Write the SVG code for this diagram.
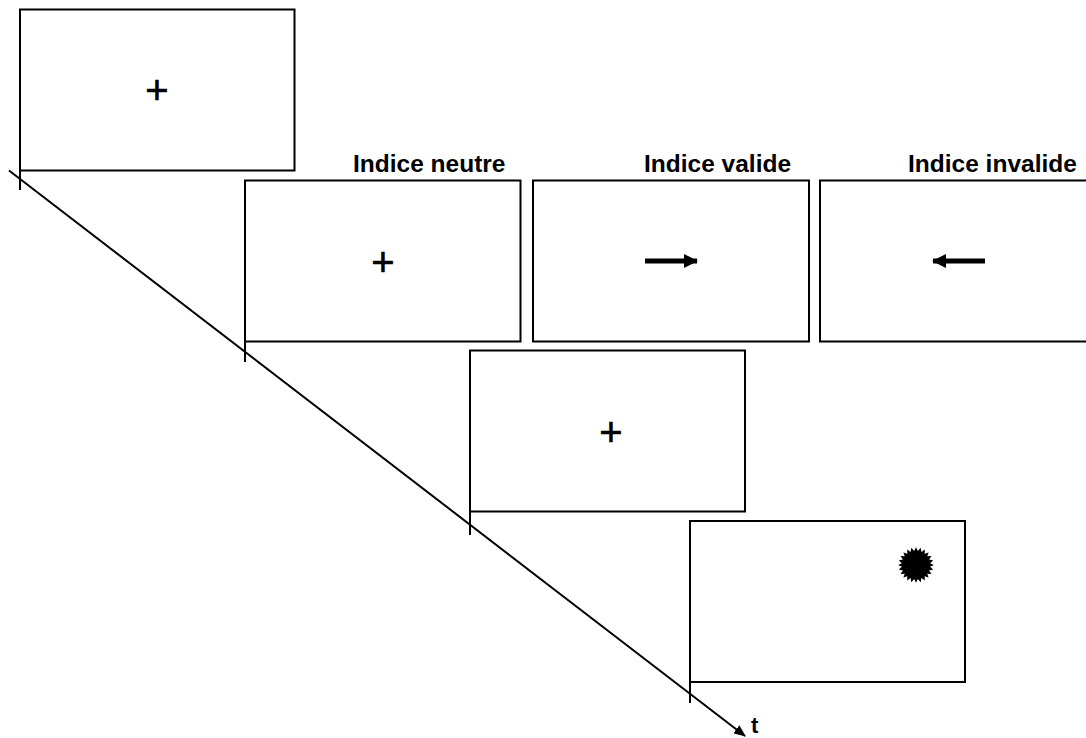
<svg xmlns="http://www.w3.org/2000/svg" width="1086" height="738" viewBox="0 0 1086 738">
<style>
.box{fill:#fff;stroke:#000;stroke-width:2}
.tick{stroke:#000;stroke-width:2}
.lbl{font-family:"Liberation Sans",Arial,sans-serif;font-weight:bold;font-size:24.5px;fill:#000}
.fix{font-family:"Liberation Sans",Arial,sans-serif;font-size:40px;fill:#000;stroke:#000;stroke-width:0.6;text-anchor:middle}
.cue{stroke:#000;stroke-width:5;fill:none}
</style>
<defs>
<marker id="ah" markerWidth="12" markerHeight="10" refX="11" refY="5" orient="auto" markerUnits="userSpaceOnUse">
<path d="M0,0 L12,5 L0,10 Z" fill="#000"/>
</marker>
<marker id="cueh" markerWidth="14" markerHeight="14" refX="13" refY="7" orient="auto" markerUnits="userSpaceOnUse">
<path d="M0,0 L14,7 L0,14 Z" fill="#000"/>
</marker>
</defs>
<g id="connectors">
<line x1="9" y1="170.5" x2="745" y2="736" stroke="#000" stroke-width="2" marker-end="url(#ah)"/>
<line class="tick" x1="20" y1="170" x2="20" y2="190"/>
<line class="tick" x1="245" y1="341" x2="245" y2="362"/>
<line class="tick" x1="470" y1="511" x2="470" y2="535"/>
<line class="tick" x1="690" y1="682" x2="690" y2="703"/>
</g>
<g id="screen1">
<rect class="box" x="20" y="9.5" width="274.5" height="161"/>
<text class="fix" x="157" y="104">+</text>
</g>
<g id="screen-neutre">
<rect class="box" x="245" y="180.5" width="275.5" height="161"/>
<text class="lbl" x="353" y="171.5">Indice neutre</text>
<text class="fix" x="383" y="276">+</text>
</g>
<g id="screen-valide">
<rect class="box" x="533" y="180.5" width="276" height="161"/>
<text class="lbl" x="644" y="171.5">Indice valide</text>
<line class="cue" x1="645" y1="261" x2="697" y2="261" marker-end="url(#cueh)"/>
</g>
<g id="screen-invalide">
<rect class="box" x="820" y="180.5" width="280" height="161"/>
<text class="lbl" x="908" y="171.5">Indice invalide</text>
<line class="cue" x1="985" y1="261" x2="933" y2="261" marker-end="url(#cueh)"/>
</g>
<g id="screen3">
<rect class="box" x="470" y="350.5" width="275" height="161"/>
<text class="fix" x="611" y="446">+</text>
</g>
<g id="screen4">
<rect class="box" x="690" y="521" width="275" height="161"/>
<polygon transform="translate(916,565) scale(1.05)" fill="#000" points="17,0 13.38,1.76 16.42,4.4 12.47,5.17 14.72,8.5 10.71,8.22 12.02,12.02 8.22,10.71 8.5,14.72 5.17,12.47 4.4,16.42 1.76,13.38 0,17 -1.76,13.38 -4.4,16.42 -5.17,12.47 -8.5,14.72 -8.22,10.71 -12.02,12.02 -10.71,8.22 -14.72,8.5 -12.47,5.17 -16.42,4.4 -13.38,1.76 -17,0 -13.38,-1.76 -16.42,-4.4 -12.47,-5.17 -14.72,-8.5 -10.71,-8.22 -12.02,-12.02 -8.22,-10.71 -8.5,-14.72 -5.17,-12.47 -4.4,-16.42 -1.76,-13.38 0,-17 1.76,-13.38 4.4,-16.42 5.17,-12.47 8.5,-14.72 8.22,-10.71 12.02,-12.02 10.71,-8.22 14.72,-8.5 12.47,-5.17 16.42,-4.4 13.38,-1.76"/>
</g>
<text class="lbl" x="751" y="733" style="font-size:22px">t</text>
</svg>
